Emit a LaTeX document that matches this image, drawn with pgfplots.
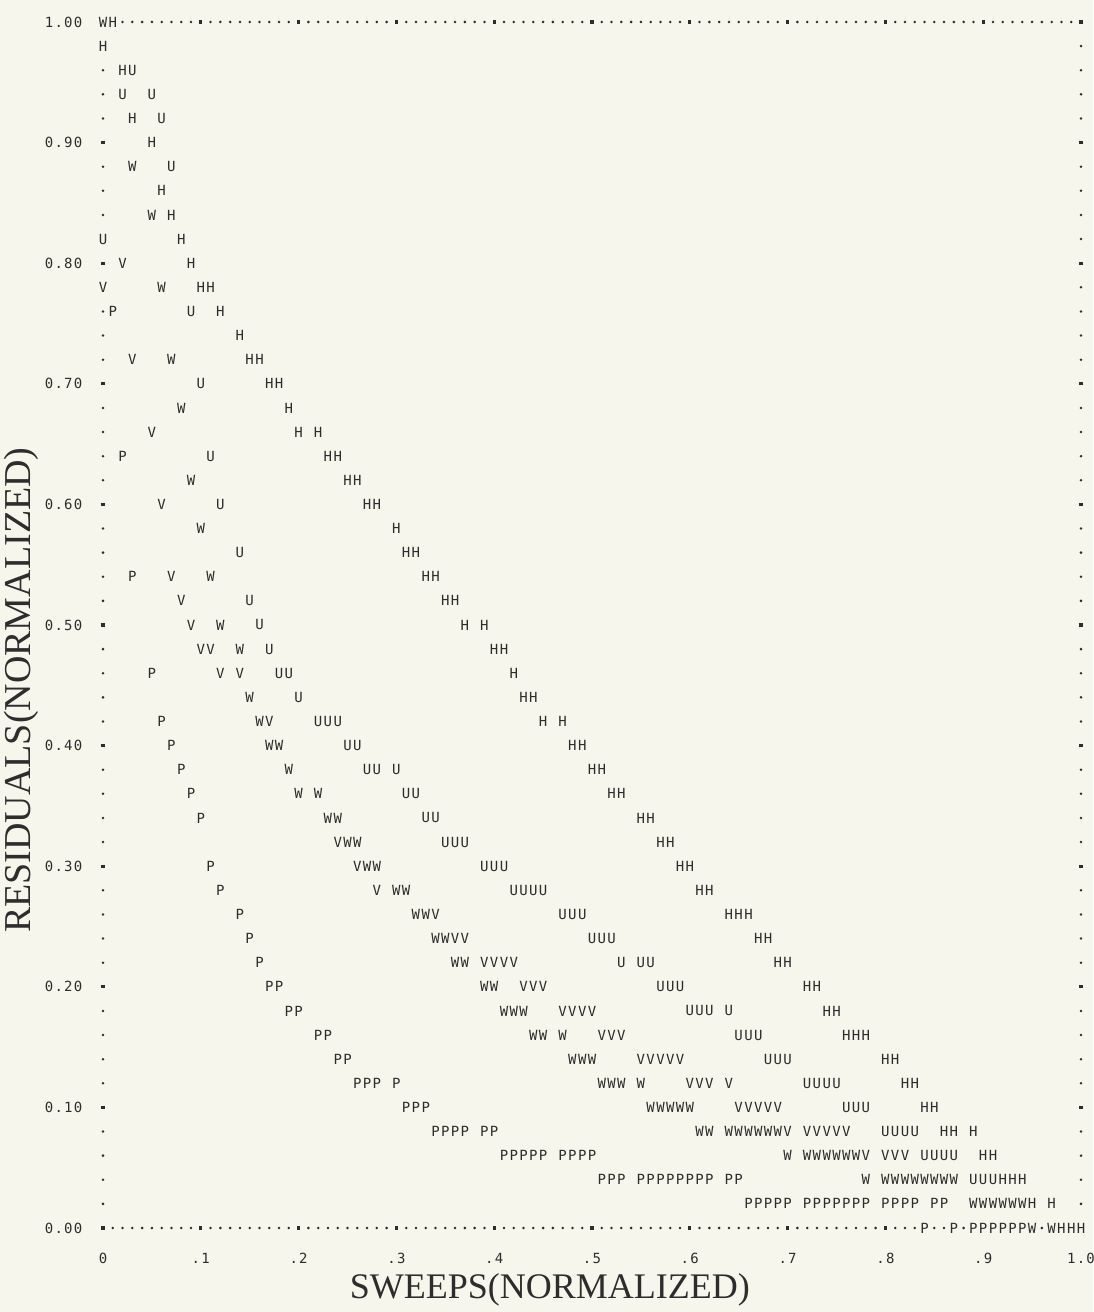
\documentclass[border=0pt]{standalone}
\usepackage{fontspec}
\setmainfont{Liberation Serif}
\newfontfamily\lpf{DejaVu Sans Mono}
\newfontfamily\lpt[LetterSpace=9]{DejaVu Sans Mono}
\usepackage{xcolor}
\usepackage{pgfplots}
\pgfplotsset{compat=1.18}
\definecolor{bg}{RGB}{247,246,236}
\definecolor{ink}{RGB}{45,45,45}
\pagecolor{bg}
\pgfplotsset{
  letter/.style={only marks, mark=text, text mark={#1}, text mark as node=true,
    text mark style={anchor=center, font=\lpf\fontsize{7}{8}\selectfont,
      text=ink, fill=bg, inner sep=0.2pt}}
}
\begin{document}
\begin{tikzpicture}
\useasboundingbox (-51.5pt,-42pt) rectangle (495pt,614pt);
\begin{axis}[
  at={(0pt,0pt)}, anchor=south west,
  scale only axis, width=489pt, height=603pt,
  xmin=0, xmax=1, ymin=0, ymax=1,
  clip=false,
  separate axis lines,
  x axis line style={draw=ink, line width=1.4pt, line cap=round, dash pattern=on 0pt off 4.89pt},
  y axis line style={draw=ink, line width=1.4pt, line cap=round, dash pattern=on 0pt off 12.06pt},
  every outer x axis line/.append style={draw=ink, line width=1.4pt, line cap=round, dash pattern=on 0pt off 4.89pt},
  every outer y axis line/.append style={draw=ink, line width=1.4pt, line cap=round, dash pattern=on 0pt off 12.06pt},
  xtick={0,0.1,0.2,0.3,0.4,0.5,0.6,0.7,0.8,0.9,1},
  xticklabels={0,.1,.2,.3,.4,.5,.6,.7,.8,.9,1.0},
  ytick={0,0.1,0.2,0.3,0.4,0.5,0.6,0.7,0.8,0.9,1},
  yticklabels={0.00,0.10,0.20,0.30,0.40,0.50,0.60,0.70,0.80,0.90,1.00},
  major tick length=2.4pt, tick align=center,
  tick style={draw=ink, line width=1.6pt},
  xticklabel style={font=\lpt\fontsize{7}{8}\selectfont, text=ink, anchor=center, yshift=-14pt},
  yticklabel style={font=\lpt\fontsize{7}{8}\selectfont, text=ink, anchor=center, xshift=-18.5pt},
  xlabel={SWEEPS(NORMALIZED)},
  xlabel style={font=\fontsize{18}{20}\selectfont, text=ink, at={(axis description cs:0.457,-0.0514)}, anchor=center},
  ylabel={RESIDUALS(NORMALIZED)},
  ylabel style={font=\fontsize{19}{21}\selectfont, text=ink, at={(axis description cs:-0.0835,0.446)}, anchor=center},
]
% H
\addplot[letter=H] coordinates {(0.01,1.00)(0.00,0.98)(0.02,0.96)(0.03,0.92)(0.05,0.90)(0.06,0.86)(0.07,0.84)(0.08,0.82)(0.09,0.80)(0.10,0.78)(0.11,0.78)(0.12,0.76)(0.14,0.74)(0.15,0.72)(0.16,0.72)(0.17,0.70)(0.18,0.70)(0.19,0.68)(0.20,0.66)(0.22,0.66)(0.23,0.64)(0.24,0.64)(0.25,0.62)(0.26,0.62)(0.27,0.60)(0.28,0.60)(0.30,0.58)(0.31,0.56)(0.32,0.56)(0.33,0.54)(0.34,0.54)(0.35,0.52)(0.36,0.52)(0.37,0.50)(0.39,0.50)(0.40,0.48)(0.41,0.48)(0.42,0.46)(0.43,0.44)(0.44,0.44)(0.45,0.42)(0.47,0.42)(0.48,0.40)(0.49,0.40)(0.50,0.38)(0.51,0.38)(0.52,0.36)(0.53,0.36)(0.55,0.34)(0.56,0.34)(0.57,0.32)(0.58,0.32)(0.59,0.30)(0.60,0.30)(0.61,0.28)(0.62,0.28)(0.64,0.26)(0.65,0.26)(0.66,0.26)(0.67,0.24)(0.68,0.24)(0.69,0.22)(0.70,0.22)(0.72,0.20)(0.73,0.20)(0.74,0.18)(0.75,0.18)(0.76,0.16)(0.77,0.16)(0.78,0.16)(0.80,0.14)(0.81,0.14)(0.82,0.12)(0.83,0.12)(0.84,0.10)(0.85,0.10)(0.86,0.08)(0.87,0.08)(0.89,0.08)(0.90,0.06)(0.91,0.06)(0.92,0.04)(0.93,0.04)(0.94,0.04)(0.95,0.02)(0.97,0.02)(0.98,0.00)(0.99,0.00)(1.00,0.00)};
% U
\addplot[letter=U] coordinates {(0.03,0.96)(0.02,0.94)(0.05,0.94)(0.06,0.92)(0.07,0.88)(0.00,0.82)(0.09,0.76)(0.10,0.70)(0.11,0.64)(0.12,0.60)(0.14,0.56)(0.15,0.52)(0.16,0.50)(0.17,0.48)(0.18,0.46)(0.19,0.46)(0.20,0.44)(0.22,0.42)(0.23,0.42)(0.24,0.42)(0.25,0.40)(0.26,0.40)(0.27,0.38)(0.28,0.38)(0.30,0.38)(0.31,0.36)(0.32,0.36)(0.33,0.34)(0.34,0.34)(0.35,0.32)(0.36,0.32)(0.37,0.32)(0.39,0.30)(0.40,0.30)(0.41,0.30)(0.42,0.28)(0.43,0.28)(0.44,0.28)(0.45,0.28)(0.47,0.26)(0.48,0.26)(0.49,0.26)(0.50,0.24)(0.51,0.24)(0.52,0.24)(0.53,0.22)(0.55,0.22)(0.56,0.22)(0.57,0.20)(0.58,0.20)(0.59,0.20)(0.60,0.18)(0.61,0.18)(0.62,0.18)(0.64,0.18)(0.65,0.16)(0.66,0.16)(0.67,0.16)(0.68,0.14)(0.69,0.14)(0.70,0.14)(0.72,0.12)(0.73,0.12)(0.74,0.12)(0.75,0.12)(0.76,0.10)(0.77,0.10)(0.78,0.10)(0.80,0.08)(0.81,0.08)(0.82,0.08)(0.83,0.08)(0.84,0.06)(0.85,0.06)(0.86,0.06)(0.87,0.06)(0.89,0.04)(0.90,0.04)(0.91,0.04)};
% W
\addplot[letter=W] coordinates {(0.00,1.00)(0.03,0.88)(0.05,0.84)(0.06,0.78)(0.07,0.72)(0.08,0.68)(0.09,0.62)(0.10,0.58)(0.11,0.54)(0.12,0.50)(0.14,0.48)(0.15,0.44)(0.16,0.42)(0.17,0.40)(0.18,0.40)(0.19,0.38)(0.20,0.36)(0.22,0.36)(0.23,0.34)(0.24,0.34)(0.25,0.32)(0.26,0.32)(0.27,0.30)(0.28,0.30)(0.30,0.28)(0.31,0.28)(0.32,0.26)(0.33,0.26)(0.34,0.24)(0.35,0.24)(0.36,0.22)(0.37,0.22)(0.39,0.20)(0.40,0.20)(0.41,0.18)(0.42,0.18)(0.43,0.18)(0.44,0.16)(0.45,0.16)(0.47,0.16)(0.48,0.14)(0.49,0.14)(0.50,0.14)(0.51,0.12)(0.52,0.12)(0.53,0.12)(0.55,0.12)(0.56,0.10)(0.57,0.10)(0.58,0.10)(0.59,0.10)(0.60,0.10)(0.61,0.08)(0.62,0.08)(0.64,0.08)(0.65,0.08)(0.66,0.08)(0.67,0.08)(0.68,0.08)(0.69,0.08)(0.70,0.06)(0.72,0.06)(0.73,0.06)(0.74,0.06)(0.75,0.06)(0.76,0.06)(0.77,0.06)(0.78,0.04)(0.80,0.04)(0.81,0.04)(0.82,0.04)(0.83,0.04)(0.84,0.04)(0.85,0.04)(0.86,0.04)(0.87,0.04)(0.89,0.02)(0.90,0.02)(0.91,0.02)(0.92,0.02)(0.93,0.02)(0.94,0.02)(0.95,0.00)(0.97,0.00)};
% V
\addplot[letter=V] coordinates {(0.02,0.80)(0.00,0.78)(0.03,0.72)(0.05,0.66)(0.06,0.60)(0.07,0.54)(0.08,0.52)(0.09,0.50)(0.10,0.48)(0.11,0.48)(0.12,0.46)(0.14,0.46)(0.17,0.42)(0.24,0.32)(0.26,0.30)(0.28,0.28)(0.34,0.26)(0.36,0.24)(0.37,0.24)(0.39,0.22)(0.40,0.22)(0.41,0.22)(0.42,0.22)(0.43,0.20)(0.44,0.20)(0.45,0.20)(0.47,0.18)(0.48,0.18)(0.49,0.18)(0.50,0.18)(0.51,0.16)(0.52,0.16)(0.53,0.16)(0.55,0.14)(0.56,0.14)(0.57,0.14)(0.58,0.14)(0.59,0.14)(0.60,0.12)(0.61,0.12)(0.62,0.12)(0.64,0.12)(0.65,0.10)(0.66,0.10)(0.67,0.10)(0.68,0.10)(0.69,0.10)(0.70,0.08)(0.72,0.08)(0.73,0.08)(0.74,0.08)(0.75,0.08)(0.76,0.08)(0.78,0.06)(0.80,0.06)(0.81,0.06)(0.82,0.06)};
% P
\addplot[letter=P] coordinates {(0.01,0.76)(0.02,0.64)(0.03,0.54)(0.05,0.46)(0.06,0.42)(0.07,0.40)(0.08,0.38)(0.09,0.36)(0.10,0.34)(0.11,0.30)(0.12,0.28)(0.14,0.26)(0.15,0.24)(0.16,0.22)(0.17,0.20)(0.18,0.20)(0.19,0.18)(0.20,0.18)(0.22,0.16)(0.23,0.16)(0.24,0.14)(0.25,0.14)(0.26,0.12)(0.27,0.12)(0.28,0.12)(0.30,0.12)(0.31,0.10)(0.32,0.10)(0.33,0.10)(0.34,0.08)(0.35,0.08)(0.36,0.08)(0.37,0.08)(0.39,0.08)(0.40,0.08)(0.41,0.06)(0.42,0.06)(0.43,0.06)(0.44,0.06)(0.45,0.06)(0.47,0.06)(0.48,0.06)(0.49,0.06)(0.50,0.06)(0.51,0.04)(0.52,0.04)(0.53,0.04)(0.55,0.04)(0.56,0.04)(0.57,0.04)(0.58,0.04)(0.59,0.04)(0.60,0.04)(0.61,0.04)(0.62,0.04)(0.64,0.04)(0.65,0.04)(0.66,0.02)(0.67,0.02)(0.68,0.02)(0.69,0.02)(0.70,0.02)(0.72,0.02)(0.73,0.02)(0.74,0.02)(0.75,0.02)(0.76,0.02)(0.77,0.02)(0.78,0.02)(0.80,0.02)(0.81,0.02)(0.82,0.02)(0.83,0.02)(0.85,0.02)(0.86,0.02)(0.84,0.00)(0.87,0.00)(0.89,0.00)(0.90,0.00)(0.91,0.00)(0.92,0.00)(0.93,0.00)(0.94,0.00)};
\end{axis}
\end{tikzpicture}
\end{document}
